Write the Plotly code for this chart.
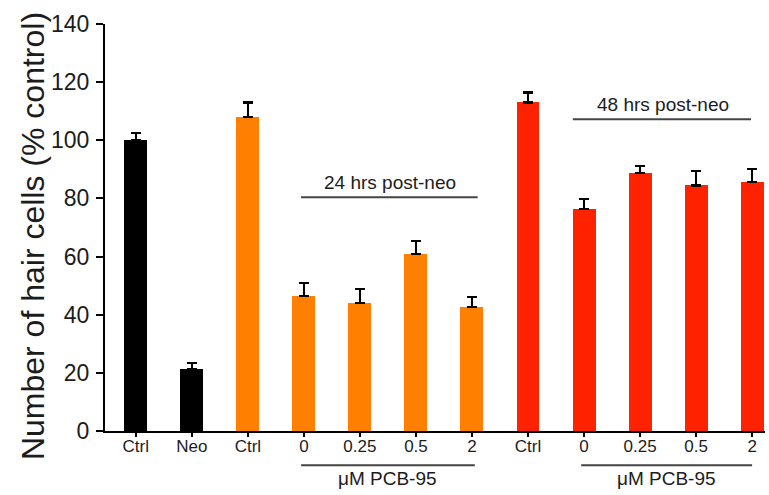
import plotly.graph_objects as go

# ---- data ----
tick_labels = ["Ctrl", "Neo", "Ctrl", "0", "0.25", "0.5", "2", "Ctrl", "0", "0.25", "0.5", "2"]
values = [100, 21.3, 108, 46.4, 44, 60.8, 42.6, 113, 76.3, 88.7, 84.5, 85.6]
errors = [2.5, 2.0, 5.0, 4.5, 4.8, 4.5, 3.4, 3.5, 3.5, 2.5, 5.0, 4.5]
groups = ["base", "base", "24h", "24h", "24h", "24h", "24h", "48h", "48h", "48h", "48h", "48h"]
group_colors = {"base": "#000000", "24h": "#FF7F00", "48h": "#FF2200"}

positions = list(range(len(tick_labels)))
colors = [group_colors[g] for g in groups]

FONT = "Liberation Sans, Arial, sans-serif"
TXT = "#1c1c1c"

fig = go.Figure()
fig.add_trace(go.Bar(
    x=positions, y=values,
    marker=dict(color=colors, line=dict(width=0)),
    width=0.41,
    error_y=dict(type="data", array=errors, arrayminus=[0] * len(errors),
                 symmetric=False, color="#000000", thickness=2.4, width=5),
    showlegend=False,
))

fig.update_layout(
    width=769, height=495,
    margin=dict(l=105, r=4, t=24, b=64),
    plot_bgcolor="white", paper_bgcolor="white",
    font=dict(family=FONT, color=TXT),
    bargap=0,
)
fig.update_xaxes(
    range=[-0.55, 11.23], tickvals=positions, ticktext=tick_labels,
    showline=True, linecolor="#000", linewidth=2,
    ticks="outside", ticklen=4, tickwidth=2, tickcolor="#000",
    tickfont=dict(size=17, color=TXT, family=FONT),
    ticklabelstandoff=-5,
    showgrid=False, zeroline=False, automargin=False,
)
fig.update_yaxes(
    range=[0, 140], tickvals=[0, 20, 40, 60, 80, 100, 120, 140],
    showline=True, linecolor="#000", linewidth=2,
    ticks="outside", ticklen=7, tickwidth=2, tickcolor="#000",
    tickfont=dict(size=23, color=TXT, family=FONT),
    ticklabelstandoff=2,
    showgrid=False, zeroline=False, automargin=False,
)

# y-axis title
fig.add_annotation(x=-0.109, y=0.479, xref="paper", yref="paper",
                   text="Number of hair cells (% control)", textangle=-90, showarrow=False,
                   xanchor="center", yanchor="middle",
                   font=dict(size=32, color=TXT, family=FONT))

line_col = "#444444"
# group brackets above bars
fig.add_shape(type="line", xref="x", yref="y", x0=2.95, x1=6.1, y0=80.4, y1=80.4,
              line=dict(color=line_col, width=2))
fig.add_annotation(x=4.54, y=80.4, xref="x", yref="y", text="24 hrs post-neo", showarrow=False,
                   yanchor="bottom", yshift=2, font=dict(size=19, color=TXT, family=FONT))
fig.add_shape(type="line", xref="x", yref="y", x0=7.8, x1=10.98, y0=107.2, y1=107.2,
              line=dict(color=line_col, width=2))
fig.add_annotation(x=9.41, y=107.2, xref="x", yref="y", text="48 hrs post-neo", showarrow=False,
                   yanchor="bottom", yshift=2, font=dict(size=19, color=TXT, family=FONT))

# concentration brackets below axis
for x0, x1 in [(2.95, 6.05), (7.95, 11.0)]:
    fig.add_shape(type="line", xref="x", yref="paper", x0=x0, x1=x1, y0=-0.084, y1=-0.084,
                  line=dict(color=line_col, width=2))
    fig.add_annotation(x=(x0 + x1) / 2, y=-0.084, xref="x", yref="paper", text="μM PCB-95",
                       showarrow=False, yanchor="top", yshift=-1,
                       font=dict(size=19, color=TXT, family=FONT))

fig.write_html("out.html", config={"displayModeBar": False},
               post_script="document.body.style.margin='0px';")
